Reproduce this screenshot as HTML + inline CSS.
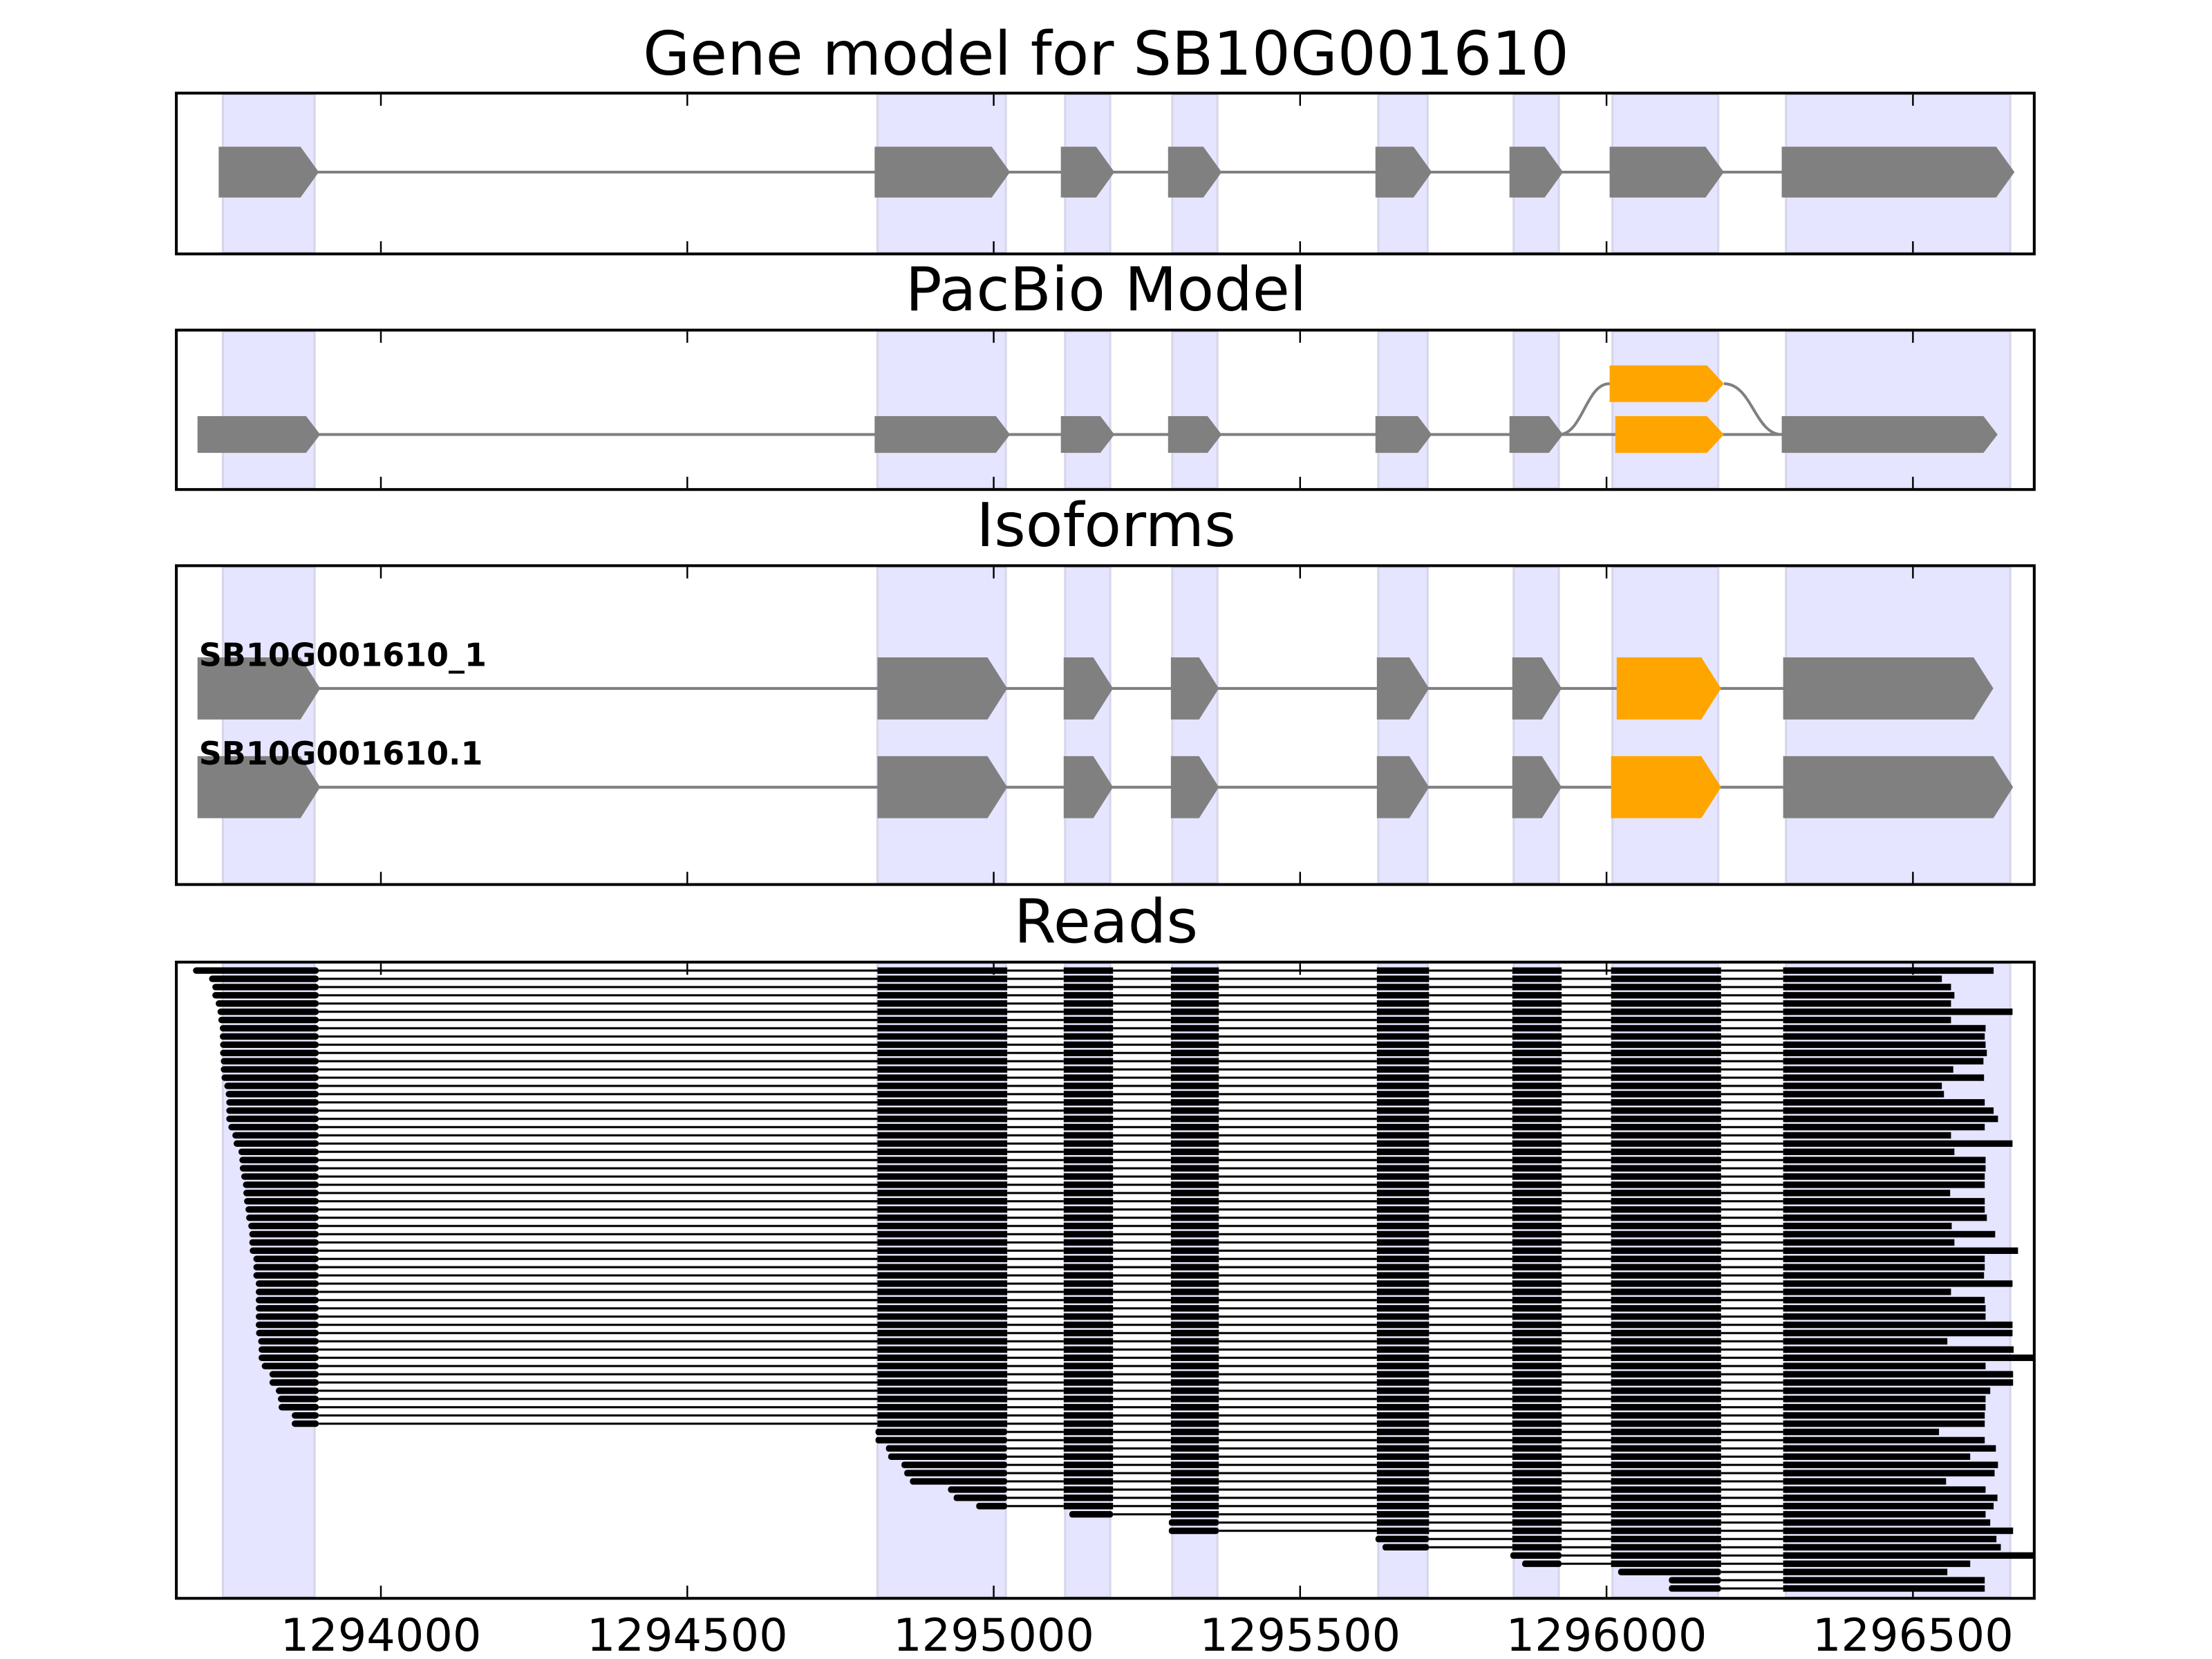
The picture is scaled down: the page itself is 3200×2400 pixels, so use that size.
<!DOCTYPE html>
<html><head><meta charset="utf-8"><style>html,body{margin:0;padding:0;background:#fff}svg{display:block}</style></head>
<body>
<svg xmlns="http://www.w3.org/2000/svg" width="3200" height="2400" viewBox="0 0 1568 1176">
<defs>
<pattern id="tk" patternUnits="userSpaceOnUse" x="0" y="685.7" width="10" height="5.84"><rect x="0" y="0" width="10" height="4.6" fill="#000"/></pattern>
<pattern id="tn" patternUnits="userSpaceOnUse" x="0" y="685.7" width="10" height="5.84"><rect x="0" y="1.55" width="10" height="1.5" fill="#000"/></pattern>
<clipPath id="c4"><rect x="125" y="682" width="1317" height="451"/></clipPath>
</defs>
<rect width="1568" height="1176" fill="#fff"/>
<g font-family="DejaVu Sans, Liberation Sans, sans-serif" fill="#000" text-anchor="middle" font-size="43">
<text x="784" y="53">Gene model for SB10G001610</text>
<text x="784" y="220">PacBio Model</text>
<text x="784" y="387">Isoforms</text>
<text x="784" y="668">Reads</text>
</g>
<g fill="#e5e5ff" stroke="#d6d6ea" stroke-width="1.5">
<rect x="158" y="67" width="65" height="112"/><rect x="622" y="67" width="91" height="112"/><rect x="755" y="67" width="32" height="112"/><rect x="831" y="67" width="32" height="112"/><rect x="977" y="67" width="35" height="112"/><rect x="1073" y="67" width="32" height="112"/><rect x="1143" y="67" width="75" height="112"/><rect x="1266" y="67" width="159" height="112"/>
<rect x="158" y="235" width="65" height="111"/><rect x="622" y="235" width="91" height="111"/><rect x="755" y="235" width="32" height="111"/><rect x="831" y="235" width="32" height="111"/><rect x="977" y="235" width="35" height="111"/><rect x="1073" y="235" width="32" height="111"/><rect x="1143" y="235" width="75" height="111"/><rect x="1266" y="235" width="159" height="111"/>
<rect x="158" y="402" width="65" height="224"/><rect x="622" y="402" width="91" height="224"/><rect x="755" y="402" width="32" height="224"/><rect x="831" y="402" width="32" height="224"/><rect x="977" y="402" width="35" height="224"/><rect x="1073" y="402" width="32" height="224"/><rect x="1143" y="402" width="75" height="224"/><rect x="1266" y="402" width="159" height="224"/>
<rect x="158" y="683" width="65" height="449"/><rect x="622" y="683" width="91" height="449"/><rect x="755" y="683" width="32" height="449"/><rect x="831" y="683" width="32" height="449"/><rect x="977" y="683" width="35" height="449"/><rect x="1073" y="683" width="32" height="449"/><rect x="1143" y="683" width="75" height="449"/><rect x="1266" y="683" width="159" height="449"/>
</g>
<line x1="220" y1="122" x2="1270" y2="122" stroke="#808080" stroke-width="2"/>
<g fill="#808080">
<polygon points="155,104 213,104 226,122 213,140 155,140"/>
<polygon points="620,104 703,104 716,122 703,140 620,140"/>
<polygon points="752,104 777,104 790,122 777,140 752,140"/>
<polygon points="828,104 853,104 866,122 853,140 828,140"/>
<polygon points="975,104 1002,104 1015,122 1002,140 975,140"/>
<polygon points="1070,104 1095,104 1108,122 1095,140 1070,140"/>
<polygon points="1141,104 1209,104 1222,122 1209,140 1141,140"/>
<polygon points="1263,104 1415,104 1428,122 1415,140 1263,140"/>
</g>
<line x1="220" y1="308" x2="1270" y2="308" stroke="#808080" stroke-width="2"/>
<path d="M1105 308 C1122 308,1124 272,1141 272 M1222 272 C1242 272,1244 308,1263 308" fill="none" stroke="#808080" stroke-width="2"/>
<g fill="#808080">
<polygon points="140,295 217,295 227,308 217,321 140,321"/>
<polygon points="620,295 706,295 716,308 706,321 620,321"/>
<polygon points="752,295 780,295 790,308 780,321 752,321"/>
<polygon points="828,295 856,295 866,308 856,321 828,321"/>
<polygon points="975,295 1005,295 1015,308 1005,321 975,321"/>
<polygon points="1070,295 1098,295 1108,308 1098,321 1070,321"/>
<polygon points="1263,295 1406,295 1416,308 1406,321 1263,321"/>
</g>
<g fill="#ffa500">
<polygon points="1141,259 1210,259 1222,272 1210,285 1141,285"/>
<polygon points="1145,295 1210,295 1222,308 1210,321 1145,321"/>
</g>
<line x1="220" y1="488" x2="1270" y2="488" stroke="#808080" stroke-width="2"/>
<line x1="220" y1="558" x2="1270" y2="558" stroke="#808080" stroke-width="2"/>
<g fill="#808080">
<polygon points="140,466 213,466 227,488 213,510 140,510"/>
<polygon points="622,466 700,466 714,488 700,510 622,510"/>
<polygon points="754,466 775,466 789,488 775,510 754,510"/>
<polygon points="830,466 850,466 864,488 850,510 830,510"/>
<polygon points="976,466 999,466 1013,488 999,510 976,510"/>
<polygon points="1072,466 1093,466 1107,488 1093,510 1072,510"/>
<polygon points="1264,466 1399,466 1413,488 1399,510 1264,510"/>
<polygon points="140,536 213,536 227,558 213,580 140,580"/>
<polygon points="622,536 700,536 714,558 700,580 622,580"/>
<polygon points="754,536 775,536 789,558 775,580 754,580"/>
<polygon points="830,536 850,536 864,558 850,580 830,580"/>
<polygon points="976,536 999,536 1013,558 999,580 976,580"/>
<polygon points="1072,536 1093,536 1107,558 1093,580 1072,580"/>
<polygon points="1264,536 1413,536 1427,558 1413,580 1264,580"/>
</g>
<g fill="#ffa500">
<polygon points="1146,466 1206,466 1220,488 1206,510 1146,510"/>
<polygon points="1142,536 1206,536 1220,558 1206,580 1142,580"/>
</g>
<g font-family="DejaVu Sans, Liberation Sans, sans-serif" font-weight="bold" font-size="22.5" fill="#000">
<text x="141" y="472">SB10G001610_1</text>
<text x="141" y="542">SB10G001610.1</text>
</g>
<g clip-path="url(#c4)">
<g fill="url(#tn)">
<rect x="226" y="685.7" width="396" height="327.04"/>
<rect x="714" y="685.7" width="40" height="385.44"/>
<rect x="789" y="685.7" width="41" height="391.28"/>
<rect x="864" y="685.7" width="112" height="402.96"/>
<rect x="1013" y="685.7" width="59" height="414.64"/>
<rect x="1107" y="685.7" width="35" height="426.32"/>
<rect x="1220" y="685.7" width="44" height="443.84"/>
</g>
<g fill="url(#tk)">
<rect x="622" y="685.7" width="92" height="327.04"/>
<rect x="754" y="685.7" width="35" height="385.44"/>
<rect x="830" y="685.7" width="34" height="391.28"/>
<rect x="976" y="685.7" width="37" height="402.96"/>
<rect x="1072" y="685.7" width="35" height="414.64"/>
<rect x="1142" y="685.7" width="78" height="426.32"/>
</g>
<g fill="#000">
<rect x="620.6" y="1012.74" width="93.4" height="4.6" rx="2"/>
<rect x="620.6" y="1018.58" width="93.4" height="4.6" rx="2"/>
<rect x="628" y="1024.42" width="86" height="4.6" rx="2"/>
<rect x="629.6" y="1030.26" width="84.4" height="4.6" rx="2"/>
<rect x="639" y="1036.1" width="75" height="4.6" rx="2"/>
<rect x="641" y="1041.94" width="73" height="4.6" rx="2"/>
<rect x="645" y="1047.78" width="69" height="4.6" rx="2"/>
<rect x="672" y="1053.62" width="42" height="4.6" rx="2"/>
<rect x="676" y="1059.46" width="38" height="4.6" rx="2"/>
<rect x="692" y="1065.3" width="22" height="4.6" rx="2"/>
<rect x="758" y="1071.14" width="31" height="4.6" rx="2"/>
<rect x="828.5" y="1076.98" width="35.5" height="4.6" rx="2"/>
<rect x="828.5" y="1082.82" width="35.5" height="4.6" rx="2"/>
<rect x="975" y="1088.66" width="38" height="4.6" rx="2"/>
<rect x="980" y="1094.5" width="33" height="4.6" rx="2"/>
<rect x="1070.6" y="1100.34" width="36.4" height="4.6" rx="2"/>
<rect x="1079" y="1106.18" width="28" height="4.6" rx="2"/>
<rect x="1147" y="1112.02" width="73" height="4.6" rx="2"/>
<rect x="1183" y="1117.86" width="37" height="4.6" rx="2"/>
<rect x="1183" y="1123.7" width="37" height="4.6" rx="2"/>
<rect x="136.8" y="685.7" width="89.2" height="4.6" rx="2.3"/>
<rect x="148.2" y="691.54" width="77.8" height="4.6" rx="2.3"/>
<rect x="150.5" y="697.38" width="75.5" height="4.6" rx="2.3"/>
<rect x="150.5" y="703.22" width="75.5" height="4.6" rx="2.3"/>
<rect x="152.9" y="709.06" width="73.1" height="4.6" rx="2.3"/>
<rect x="154.2" y="714.9" width="71.8" height="4.6" rx="2.3"/>
<rect x="154.8" y="720.74" width="71.2" height="4.6" rx="2.3"/>
<rect x="155.8" y="726.58" width="70.2" height="4.6" rx="2.3"/>
<rect x="155.8" y="732.42" width="70.2" height="4.6" rx="2.3"/>
<rect x="156" y="738.26" width="70" height="4.6" rx="2.3"/>
<rect x="156" y="744.1" width="70" height="4.6" rx="2.3"/>
<rect x="156.5" y="749.94" width="69.5" height="4.6" rx="2.3"/>
<rect x="156.5" y="755.78" width="69.5" height="4.6" rx="2.3"/>
<rect x="157" y="761.62" width="69" height="4.6" rx="2.3"/>
<rect x="159" y="767.46" width="67" height="4.6" rx="2.3"/>
<rect x="160" y="773.3" width="66" height="4.6" rx="2.3"/>
<rect x="160.4" y="779.14" width="65.6" height="4.6" rx="2.3"/>
<rect x="160.4" y="784.98" width="65.6" height="4.6" rx="2.3"/>
<rect x="160.4" y="790.82" width="65.6" height="4.6" rx="2.3"/>
<rect x="161.9" y="796.66" width="64.1" height="4.6" rx="2.3"/>
<rect x="164.7" y="802.5" width="61.3" height="4.6" rx="2.3"/>
<rect x="165.6" y="808.34" width="60.4" height="4.6" rx="2.3"/>
<rect x="169" y="814.18" width="57" height="4.6" rx="2.3"/>
<rect x="169.7" y="820.02" width="56.3" height="4.6" rx="2.3"/>
<rect x="170" y="825.86" width="56" height="4.6" rx="2.3"/>
<rect x="171" y="831.7" width="55" height="4.6" rx="2.3"/>
<rect x="172.2" y="837.54" width="53.8" height="4.6" rx="2.3"/>
<rect x="172.5" y="843.38" width="53.5" height="4.6" rx="2.3"/>
<rect x="173" y="849.22" width="53" height="4.6" rx="2.3"/>
<rect x="174" y="855.06" width="52" height="4.6" rx="2.3"/>
<rect x="174.5" y="860.9" width="51.5" height="4.6" rx="2.3"/>
<rect x="176" y="866.74" width="50" height="4.6" rx="2.3"/>
<rect x="176.7" y="872.58" width="49.3" height="4.6" rx="2.3"/>
<rect x="176.7" y="878.42" width="49.3" height="4.6" rx="2.3"/>
<rect x="177" y="884.26" width="49" height="4.6" rx="2.3"/>
<rect x="179.6" y="890.1" width="46.4" height="4.6" rx="2.3"/>
<rect x="179.6" y="895.94" width="46.4" height="4.6" rx="2.3"/>
<rect x="179.6" y="901.78" width="46.4" height="4.6" rx="2.3"/>
<rect x="181.3" y="907.62" width="44.7" height="4.6" rx="2.3"/>
<rect x="181.3" y="913.46" width="44.7" height="4.6" rx="2.3"/>
<rect x="181.3" y="919.3" width="44.7" height="4.6" rx="2.3"/>
<rect x="181.3" y="925.14" width="44.7" height="4.6" rx="2.3"/>
<rect x="181.3" y="930.98" width="44.7" height="4.6" rx="2.3"/>
<rect x="181.3" y="936.82" width="44.7" height="4.6" rx="2.3"/>
<rect x="181.5" y="942.66" width="44.5" height="4.6" rx="2.3"/>
<rect x="183" y="948.5" width="43" height="4.6" rx="2.3"/>
<rect x="183.3" y="954.34" width="42.7" height="4.6" rx="2.3"/>
<rect x="183.3" y="960.18" width="42.7" height="4.6" rx="2.3"/>
<rect x="185.5" y="966.02" width="40.5" height="4.6" rx="2.3"/>
<rect x="191" y="971.86" width="35" height="4.6" rx="2.3"/>
<rect x="191" y="977.7" width="35" height="4.6" rx="2.3"/>
<rect x="195.5" y="983.54" width="30.5" height="4.6" rx="2.3"/>
<rect x="197" y="989.38" width="29" height="4.6" rx="2.3"/>
<rect x="197.5" y="995.22" width="28.5" height="4.6" rx="2.3"/>
<rect x="206.8" y="1001.06" width="19.2" height="4.6" rx="2.3"/>
<rect x="206.8" y="1006.9" width="19.2" height="4.6" rx="2.3"/>
</g>
<g fill="#000">
<rect x="1264" y="685.7" width="149.2" height="4.6"/>
<rect x="1264" y="691.54" width="112.5" height="4.6"/>
<rect x="1264" y="697.38" width="119" height="4.6"/>
<rect x="1264" y="703.22" width="121.4" height="4.6"/>
<rect x="1264" y="709.06" width="119" height="4.6"/>
<rect x="1264" y="714.9" width="162.6" height="4.6"/>
<rect x="1264" y="720.74" width="119" height="4.6"/>
<rect x="1264" y="726.58" width="143.5" height="4.6"/>
<rect x="1264" y="732.42" width="142.9" height="4.6"/>
<rect x="1264" y="738.26" width="143.5" height="4.6"/>
<rect x="1264" y="744.1" width="144.4" height="4.6"/>
<rect x="1264" y="749.94" width="142" height="4.6"/>
<rect x="1264" y="755.78" width="120.6" height="4.6"/>
<rect x="1264" y="761.62" width="142.4" height="4.6"/>
<rect x="1264" y="767.46" width="112.5" height="4.6"/>
<rect x="1264" y="773.3" width="114" height="4.6"/>
<rect x="1264" y="779.14" width="142.9" height="4.6"/>
<rect x="1264" y="784.98" width="149.2" height="4.6"/>
<rect x="1264" y="790.82" width="152.3" height="4.6"/>
<rect x="1264" y="796.66" width="142.9" height="4.6"/>
<rect x="1264" y="802.5" width="119" height="4.6"/>
<rect x="1264" y="808.34" width="162.6" height="4.6"/>
<rect x="1264" y="814.18" width="121.4" height="4.6"/>
<rect x="1264" y="820.02" width="143.5" height="4.6"/>
<rect x="1264" y="825.86" width="143.5" height="4.6"/>
<rect x="1264" y="831.7" width="142.9" height="4.6"/>
<rect x="1264" y="837.54" width="142.9" height="4.6"/>
<rect x="1264" y="843.38" width="118.4" height="4.6"/>
<rect x="1264" y="849.22" width="142.9" height="4.6"/>
<rect x="1264" y="855.06" width="142.9" height="4.6"/>
<rect x="1264" y="860.9" width="144.4" height="4.6"/>
<rect x="1264" y="866.74" width="119.5" height="4.6"/>
<rect x="1264" y="872.58" width="150.3" height="4.6"/>
<rect x="1264" y="878.42" width="121.4" height="4.6"/>
<rect x="1264" y="884.26" width="166.5" height="4.6"/>
<rect x="1264" y="890.1" width="142.9" height="4.6"/>
<rect x="1264" y="895.94" width="142.9" height="4.6"/>
<rect x="1264" y="901.78" width="142.4" height="4.6"/>
<rect x="1264" y="907.62" width="162.6" height="4.6"/>
<rect x="1264" y="913.46" width="119" height="4.6"/>
<rect x="1264" y="919.3" width="142.9" height="4.6"/>
<rect x="1264" y="925.14" width="143.5" height="4.6"/>
<rect x="1264" y="930.98" width="143.5" height="4.6"/>
<rect x="1264" y="936.82" width="162.6" height="4.6"/>
<rect x="1264" y="942.66" width="162.6" height="4.6"/>
<rect x="1264" y="948.5" width="116.4" height="4.6"/>
<rect x="1264" y="954.34" width="163.4" height="4.6"/>
<rect x="1264" y="960.18" width="180" height="4.6"/>
<rect x="1264" y="966.02" width="143.5" height="4.6"/>
<rect x="1264" y="971.86" width="163" height="4.6"/>
<rect x="1264" y="977.7" width="163" height="4.6"/>
<rect x="1264" y="983.54" width="146.8" height="4.6"/>
<rect x="1264" y="989.38" width="143.5" height="4.6"/>
<rect x="1264" y="995.22" width="143.5" height="4.6"/>
<rect x="1264" y="1001.06" width="142.9" height="4.6"/>
<rect x="1264" y="1006.9" width="142.9" height="4.6"/>
<rect x="1264" y="1012.74" width="110.5" height="4.6"/>
<rect x="1264" y="1018.58" width="142.9" height="4.6"/>
<rect x="1264" y="1024.42" width="150.8" height="4.6"/>
<rect x="1264" y="1030.26" width="132.6" height="4.6"/>
<rect x="1264" y="1036.1" width="152.3" height="4.6"/>
<rect x="1264" y="1041.94" width="149.9" height="4.6"/>
<rect x="1264" y="1047.78" width="115.5" height="4.6"/>
<rect x="1264" y="1053.62" width="143.5" height="4.6"/>
<rect x="1264" y="1059.46" width="151.9" height="4.6"/>
<rect x="1264" y="1065.3" width="149.2" height="4.6"/>
<rect x="1264" y="1071.14" width="143.5" height="4.6"/>
<rect x="1264" y="1076.98" width="146.8" height="4.6"/>
<rect x="1264" y="1082.82" width="163" height="4.6"/>
<rect x="1264" y="1088.66" width="151.2" height="4.6"/>
<rect x="1264" y="1094.5" width="154.3" height="4.6"/>
<rect x="1264" y="1100.34" width="180" height="4.6"/>
<rect x="1264" y="1106.18" width="132.6" height="4.6"/>
<rect x="1264" y="1112.02" width="116.4" height="4.6"/>
<rect x="1264" y="1117.86" width="142.9" height="4.6"/>
<rect x="1264" y="1123.7" width="142.9" height="4.6"/>
</g>
</g>
<g stroke="#000" stroke-width="1.2">
<path d="M270 67v8M487.2 67v8M704.4 67v8M921.6 67v8M1138.8 67v8M1356 67v8 M270 179v-8M487.2 179v-8M704.4 179v-8M921.6 179v-8M1138.8 179v-8M1356 179v-8"/>
<path d="M270 235v8M487.2 235v8M704.4 235v8M921.6 235v8M1138.8 235v8M1356 235v8 M270 346v-8M487.2 346v-8M704.4 346v-8M921.6 346v-8M1138.8 346v-8M1356 346v-8"/>
<path d="M270 402v8M487.2 402v8M704.4 402v8M921.6 402v8M1138.8 402v8M1356 402v8 M270 626v-8M487.2 626v-8M704.4 626v-8M921.6 626v-8M1138.8 626v-8M1356 626v-8"/>
<path d="M270 683v8M487.2 683v8M704.4 683v8M921.6 683v8M1138.8 683v8M1356 683v8 M270 1132v-8M487.2 1132v-8M704.4 1132v-8M921.6 1132v-8M1138.8 1132v-8M1356 1132v-8"/>
</g>
<g fill="none" stroke="#000" stroke-width="2">
<rect x="125" y="66" width="1317" height="114"/>
<rect x="125" y="234" width="1317" height="113"/>
<rect x="125" y="401" width="1317" height="226"/>
<rect x="125" y="682" width="1317" height="451"/>
</g>
<g font-family="DejaVu Sans, Liberation Sans, sans-serif" font-size="32" fill="#000" text-anchor="middle">
<text x="270" y="1170">1294000</text>
<text x="487.2" y="1170">1294500</text>
<text x="704.4" y="1170">1295000</text>
<text x="921.6" y="1170">1295500</text>
<text x="1138.8" y="1170">1296000</text>
<text x="1356" y="1170">1296500</text>
</g>
</svg>
</body></html>
